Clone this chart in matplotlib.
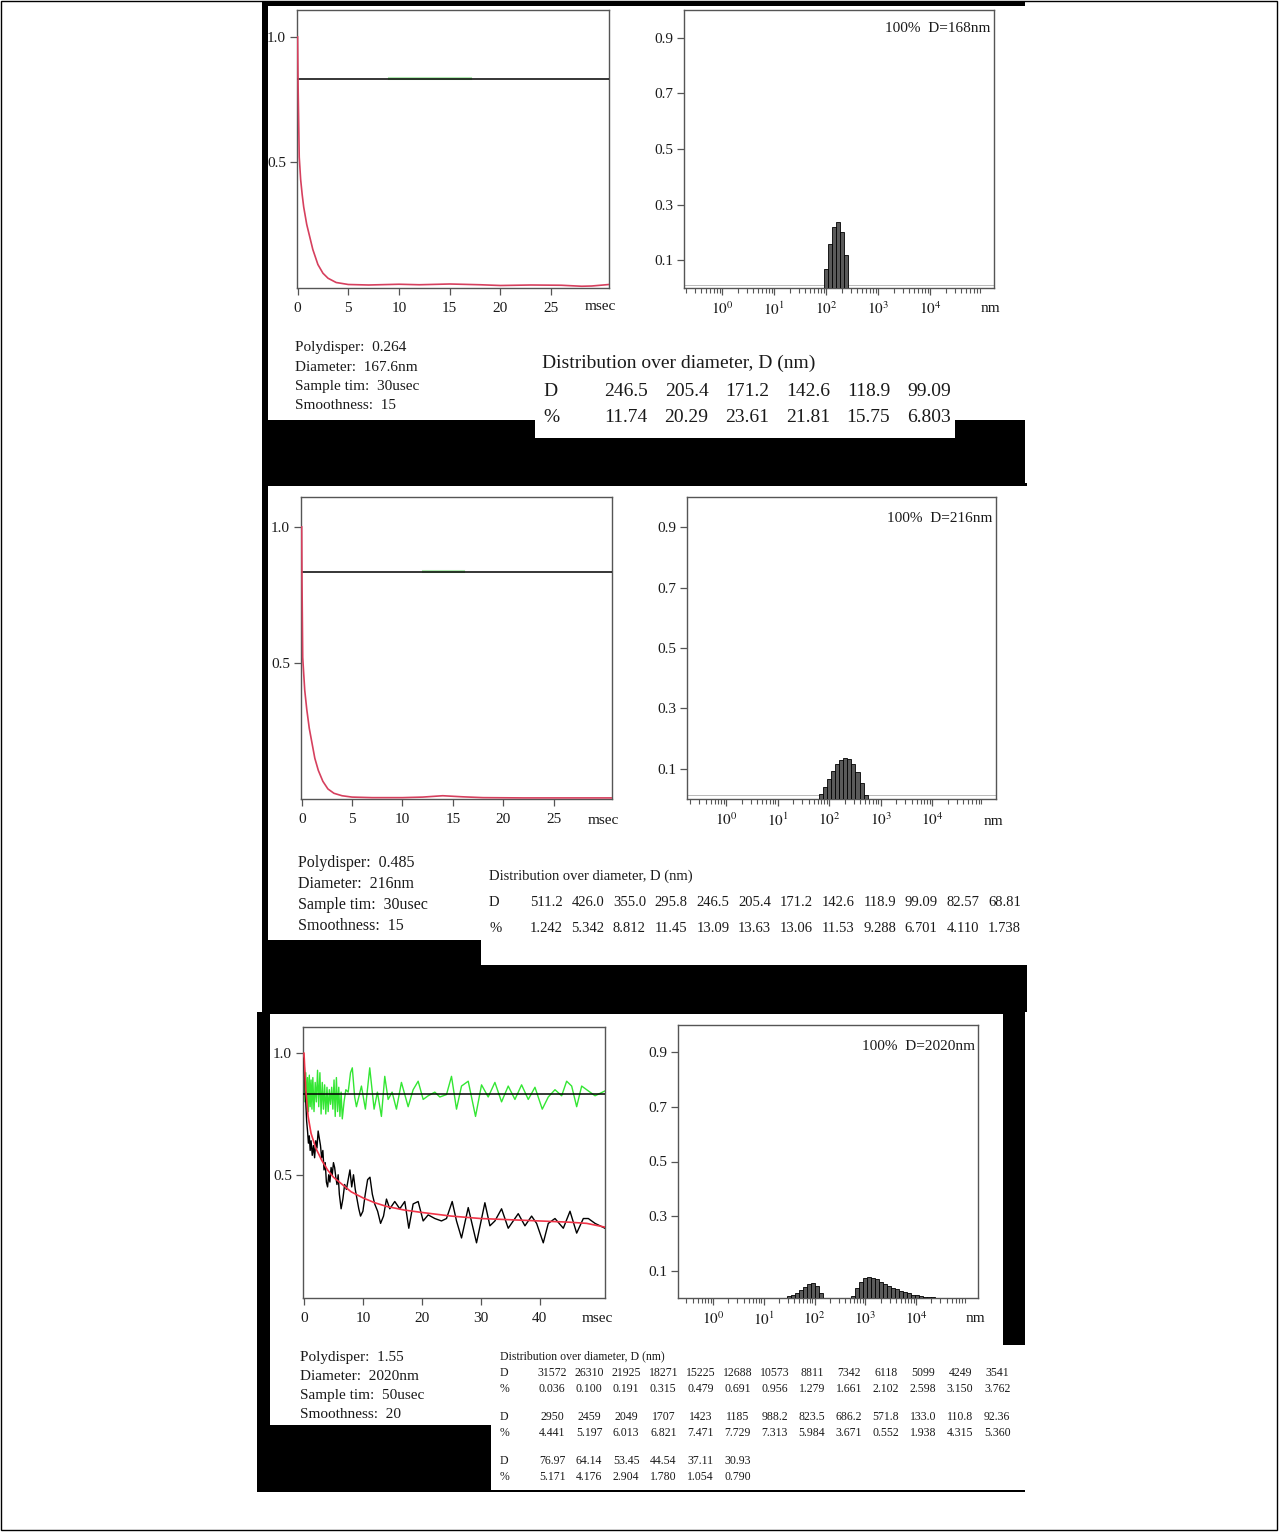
"""Three DLS reports: correlation functions and size distributions."""
import matplotlib
matplotlib.use('Agg')
import matplotlib.pyplot as plt
from matplotlib.patches import Rectangle
from matplotlib.ticker import LogLocator, NullFormatter

plt.rcParams['font.family'] = ['Liberation Serif', 'DejaVu Serif']
plt.rcParams['mathtext.fontset'] = 'stix'

W, H = 1279, 1532

# ---- sample 1 ----
s1_info = ['Polydisper:  0.264', 'Diameter:  167.6nm', 'Sample tim:  30usec', 'Smoothness:  15']
s1_peak = '100%  D=168nm'
s1_t = [0, 0.05, 0.16, 0.3, 0.45, 0.6, 0.9, 1.2, 1.5, 2.0, 2.5, 3.0, 3.8, 5, 7, 10, 12, 15,
        18, 20, 23, 26, 28, 29, 30.7]
s1_fit = [1.0, 0.8, 0.52, 0.43, 0.37, 0.32, 0.25, 0.2, 0.15, 0.09, 0.055, 0.035, 0.018, 0.01,
          0.008, 0.011, 0.009, 0.012, 0.009, 0.006, 0.008, 0.007, 0.003, 0.004, 0.01]
s1_base = 0.832
s1_green_t = [9, 17]
s1_green_v = [0.836, 0.836]
s1_D = [246.5, 205.4, 171.2, 142.6, 118.9, 99.09]
s1_pct = [11.74, 20.29, 23.61, 21.81, 15.75, 6.803]
s1_D_lbl = ['246.5', '205.4', '171.2', '142.6', '118.9', '99.09']
s1_pct_lbl = ['11.74', '20.29', '23.61', '21.81', '15.75', '6.803']

# ---- sample 2 ----
s2_info = ['Polydisper:  0.485', 'Diameter:  216nm', 'Sample tim:  30usec', 'Smoothness:  15']
s2_peak = '100%  D=216nm'
s2_t = [0, 0.03, 0.1, 0.3, 0.5, 0.75, 1.0, 1.3, 1.65, 2.1, 2.6, 3.2, 4, 5, 7, 10, 12, 14, 16,
        18, 22, 26, 30.8]
s2_fit = [1.0, 0.8, 0.52, 0.4, 0.33, 0.26, 0.21, 0.15, 0.105, 0.065, 0.037, 0.021, 0.012, 0.007,
          0.005, 0.005, 0.007, 0.012, 0.008, 0.005, 0.004, 0.004, 0.004]
s2_base = 0.835
s2_green_t = [12, 16]
s2_green_v = [0.839, 0.839]
s2_D = [511.2, 426.0, 355.0, 295.8, 246.5, 205.4, 171.2, 142.6, 118.9, 99.09, 82.57, 68.81]
s2_pct = [1.242, 5.342, 8.812, 11.45, 13.09, 13.63, 13.06, 11.53, 9.288, 6.701, 4.110, 1.738]
s2_D_lbl = ['511.2', '426.0', '355.0', '295.8', '246.5', '205.4', '171.2', '142.6', '118.9',
            '99.09', '82.57', '68.81']
s2_pct_lbl = ['1.242', '5.342', '8.812', '11.45', '13.09', '13.63', '13.06', '11.53', '9.288',
              '6.701', '4.110', '1.738']

# ---- sample 3 ----
s3_info = ['Polydisper:  1.55', 'Diameter:  2020nm', 'Sample tim:  50usec', 'Smoothness:  20']
s3_peak = '100%  D=2020nm'
s3_base = 0.832
s3_fit_t = [0, 0.3, 0.7, 1.2, 2, 3, 4, 5, 6.5, 8, 10, 12, 14, 17, 20, 25, 30, 35, 40, 45, 48, 51]
s3_fit = [1.0, 0.85, 0.74, 0.67, 0.61, 0.56, 0.52, 0.49, 0.46, 0.43, 0.405, 0.385, 0.37, 0.355,
          0.345, 0.33, 0.32, 0.315, 0.31, 0.305, 0.3, 0.285]
s3_raw_t = [0, 0.15, 0.3, 0.45, 0.6, 0.75, 0.9, 1.05, 1.2, 1.4, 1.6, 1.8, 2.0, 2.2, 2.4, 2.6,
            2.8, 3.0, 3.2, 3.4, 3.6, 3.8, 4.0, 4.2, 4.4, 4.6, 4.8, 5.0, 5.2, 5.4, 5.6, 5.8, 6.0,
            6.3, 6.6, 6.9, 7.2, 7.5, 7.8, 8.1, 8.4, 8.7, 9.0, 9.3, 9.6, 10.0, 10.4, 10.8, 11.2,
            11.6, 12.0, 12.5, 13.0, 13.5, 14.0,
            14.56, 15.41, 16.26, 17.11, 17.79, 18.53, 19.38, 20.23, 21.08, 22.21, 23.34, 24.19,
            25.16, 25.89, 26.74, 27.88, 29.29, 30.71, 31.56, 32.41, 33.54, 34.67, 35.52, 36.37,
            37.51, 38.64, 39.49, 40.62, 41.47, 42.61, 44.02, 45.16, 46.29, 47.42, 48.27, 49.41,
            51.1]
s3_raw = [0.98, 0.88, 0.80, 0.72, 0.68, 0.63, 0.66, 0.60, 0.64, 0.58, 0.62, 0.57, 0.64, 0.61,
          0.68, 0.65, 0.62, 0.57, 0.60, 0.52, 0.55, 0.47, 0.45, 0.50, 0.47, 0.53, 0.50, 0.55,
          0.53, 0.49, 0.46, 0.50, 0.42, 0.36, 0.40, 0.46, 0.44, 0.48, 0.52, 0.45, 0.50, 0.44,
          0.40, 0.36, 0.33, 0.35, 0.42, 0.48, 0.49, 0.42, 0.38, 0.35, 0.30, 0.33, 0.40,
          0.36, 0.39, 0.36, 0.39, 0.28, 0.38, 0.39, 0.31, 0.335, 0.32, 0.31, 0.32, 0.39, 0.31,
          0.24, 0.365, 0.22, 0.385, 0.29, 0.31, 0.36, 0.28, 0.31, 0.34, 0.29, 0.33, 0.30, 0.22,
          0.30, 0.32, 0.28, 0.35, 0.26, 0.32, 0.32, 0.30, 0.28]
s3_grn_t = [0, 0.15, 0.3, 0.45, 0.6, 0.75, 0.9, 1.05, 1.2, 1.35, 1.5, 1.7, 1.9, 2.1, 2.3, 2.5,
            2.7, 2.9, 3.1, 3.3, 3.5, 3.7, 3.9, 4.1, 4.3, 4.5, 4.7, 4.9, 5.1, 5.3, 5.5, 5.7, 5.9,
            6.1, 6.3, 6.5, 6.8, 7.1, 7.5, 7.9, 8.2, 8.6,
            8.9, 9.75, 10.42, 11.16, 11.9, 12.46, 13.14, 13.71, 14.28, 14.96, 15.69, 16.54,
            17.68, 18.53, 19.38, 20.23, 21.08, 22.21, 23.06, 24.19, 25.04, 25.89, 26.74, 27.88,
            29.12, 30.14, 31.27, 32.41, 33.54, 34.67, 35.81, 36.94, 38.07, 39.21, 40.45, 41.47,
            42.61, 43.74, 44.59, 45.44, 46.29, 47.14, 48.27, 49.41, 51.1]
s3_grn = [0.98, 0.80, 0.92, 0.77, 0.90, 0.76, 0.91, 0.78, 0.89, 0.77, 0.90, 0.76, 0.88, 0.80,
          0.93, 0.78, 0.92, 0.75, 0.88, 0.77, 0.87, 0.75, 0.86, 0.76, 0.85, 0.79, 0.86, 0.77,
          0.89, 0.74, 0.90, 0.76, 0.86, 0.74, 0.84, 0.73, 0.80, 0.85, 0.84, 0.92, 0.94, 0.82,
          0.78, 0.865, 0.77, 0.94, 0.77, 0.84, 0.74, 0.905, 0.81, 0.84, 0.77, 0.88, 0.78, 0.85,
          0.885, 0.81, 0.825, 0.84, 0.82, 0.83, 0.905, 0.77, 0.865, 0.885, 0.74, 0.87, 0.82,
          0.88, 0.80, 0.865, 0.81, 0.87, 0.81, 0.86, 0.77, 0.82, 0.85, 0.825, 0.885, 0.865,
          0.78, 0.865, 0.845, 0.825, 0.845]
s3_D = [31572, 26310, 21925, 18271, 15225, 12688, 10573, 8811, 7342, 6118, 5099, 4249, 3541,
        2950, 2459, 2049, 1707, 1423, 1185, 988.2, 823.5, 686.2, 571.8, 133.0, 110.8, 92.36,
        76.97, 64.14, 53.45, 44.54, 37.11, 30.93]
s3_pct = [0.036, 0.100, 0.191, 0.315, 0.479, 0.691, 0.956, 1.279, 1.661, 2.102, 2.598, 3.150,
          3.762, 4.441, 5.197, 6.013, 6.821, 7.471, 7.729, 7.313, 5.984, 3.671, 0.552, 1.938,
          4.315, 5.360, 5.171, 4.176, 2.904, 1.780, 1.054, 0.790]
s3_D_lbl = ['31572', '26310', '21925', '18271', '15225', '12688', '10573', '8811', '7342', '6118',
            '5099', '4249', '3541', '2950', '2459', '2049', '1707', '1423', '1185', '988.2',
            '823.5', '686.2', '571.8', '133.0', '110.8', '92.36', '76.97', '64.14', '53.45',
            '44.54', '37.11', '30.93']
s3_pct_lbl = ['0.036', '0.100', '0.191', '0.315', '0.479', '0.691', '0.956', '1.279', '1.661',
              '2.102', '2.598', '3.150', '3.762', '4.441', '5.197', '6.013', '6.821', '7.471',
              '7.729', '7.313', '5.984', '3.671', '0.552', '1.938', '4.315', '5.360', '5.171',
              '4.176', '2.904', '1.780', '1.054', '0.790']

TITLE = 'Distribution over diameter, D (nm)'
BIN_RATIO = 1.2
INK = '#1a1a1a'
AX = '#555555'

fig = plt.figure(figsize=(W / 100, H / 100), dpi=100)
fig.patch.set_facecolor('white')


def box(x0, y0, x1, y1, color, z=-5, **kw):
    fig.add_artist(Rectangle((x0 / W, 1 - y1 / H), (x1 - x0) / W, (y1 - y0) / H,
                             transform=fig.transFigure, facecolor=color, zorder=z, **kw))


def txt(x, y, s, size, ha='left'):
    fig.text(x / W, 1 - y / H, s, fontsize=size, ha=ha, va='center', color=INK)


def new_ax(x0, y0, x1, y1):
    ax = fig.add_axes([x0 / W, 1 - y1 / H, (x1 - x0) / W, (y1 - y0) / H])
    for sp in ax.spines.values():
        sp.set_color(AX)
        sp.set_linewidth(1.0)
    ax.tick_params(direction='out', length=5, width=0.9, color=AX, labelsize=11,
                   labelcolor=INK, pad=3)
    return ax


def corr_panel(rect, xlim, ylim, xticks, base, fit_t, fit, red, gt, gv, green_style,
               raw_t=None, raw=None):
    ax = new_ax(*rect)
    ax.plot(gt, gv, zorder=2, **green_style)
    ax.axhline(base, color='black', lw=1.1, zorder=3)
    if raw_t is not None:
        ax.plot(raw_t, raw, color='black', lw=1.0, zorder=4)
    ax.plot(fit_t, fit, color=red, lw=1.2, zorder=5)
    ax.set_xlim(*xlim)
    ax.set_ylim(*ylim)
    ax.set_xticks(xticks)
    ax.set_xticklabels([str(v) for v in xticks])
    ax.set_yticks([0.5, 1.0])
    ax.set_yticklabels(['0.5', '1.0'])
    ax.tick_params(axis='x', pad=5)
    return ax


def hist_panel(rect, xlim, D, pct, peak_x, peak_y, peak, base_line=True):
    ax = new_ax(*rect)
    ax.set_xscale('log')
    lo = [d / BIN_RATIO ** 0.5 for d in D]
    wd = [d * BIN_RATIO ** 0.5 - d / BIN_RATIO ** 0.5 for d in D]
    ax.bar(lo, [p / 100 for p in pct], width=wd, align='edge', color='#5a5a5a',
           edgecolor='black', linewidth=0.6, zorder=3)
    if base_line:
        ax.axhline(0.012, color='#b8b8b8', lw=0.7, zorder=2)
    ax.set_xlim(*xlim)
    ax.set_ylim(0, 1.0)
    ax.set_yticks([0.1, 0.3, 0.5, 0.7, 0.9])
    ax.set_yticklabels(['0.1', '0.3', '0.5', '0.7', '0.9'])
    ax.set_xticks([1, 10, 100, 1000, 10000])
    ax.set_xticklabels([r'$10^0$', r'$10^1$', r'$10^2$', r'$10^3$', r'$10^4$'])
    ax.xaxis.set_minor_locator(LogLocator(base=10, subs=range(2, 10), numticks=20))
    ax.xaxis.set_minor_formatter(NullFormatter())
    ax.tick_params(axis='x', which='minor', direction='out', length=3.5, width=0.8, color=AX)
    ax.tick_params(axis='x', which='major', pad=4)
    txt(peak_x, peak_y, peak, 11, ha='right')
    return ax


faint_green = dict(color='#8fe08f', lw=2.2, alpha=0.7)
bright_green = dict(color='#33e633', lw=1.0)

# outer frame
box(1, 1, 1277, 1530, 'none', z=20, edgecolor='black', linewidth=1.0)

# ---------------- panel 1 ----------------
box(262, 2, 1025, 483, 'black')
box(268, 6, 1025, 420, 'white', z=-4)
box(535, 340, 955, 438, 'white', z=-4)
corr_panel((297, 10, 609, 288), (-0.06, 30.7), (-0.004, 1.108), [0, 5, 10, 15, 20, 25],
           s1_base, s1_t, s1_fit, '#d6405e', s1_green_t, s1_green_v, faint_green)
txt(600, 307, 'msec', 11, ha='center')
hist_panel((684, 10, 994, 288), (10 ** -0.73, 10 ** 5.23), s1_D, s1_pct, 990, 29, s1_peak)
txt(990, 308, 'nm', 11, ha='center')
for i, s in enumerate(s1_info):
    txt(295, 348 + 19.3 * i, s, 11)
txt(542, 363, TITLE, 14)
txt(543, 391, 'D', 14)
txt(543, 418, '%', 14)
for i, (a, b) in enumerate(zip(s1_D_lbl, s1_pct_lbl)):
    txt(626 + 60.6 * i, 391, a, 14, ha='center')
    txt(626 + 60.6 * i, 418, b, 14, ha='center')

# ---------------- panel 2 ----------------
box(262, 483, 1027, 1012, 'black')
box(268, 486, 1027, 940, 'white', z=-4)
box(481, 855, 1027, 965, 'white', z=-4)
corr_panel((301, 497, 612, 799), (-0.07, 30.8), (0, 1.11), [0, 5, 10, 15, 20, 25],
           s2_base, s2_t, s2_fit, '#d6405e', s2_green_t, s2_green_v, faint_green)
txt(603, 820, 'msec', 11, ha='center')
hist_panel((687, 497, 996, 799), (10 ** -0.76, 10 ** 5.24), s2_D, s2_pct, 992, 518, s2_peak)
txt(993, 821, 'nm', 11, ha='center')
for i, s in enumerate(s2_info):
    txt(298, 863 + 21 * i, s, 11.5)
txt(489, 876, TITLE, 10.5)
txt(489, 903, 'D', 10.5)
txt(489, 929, '%', 10.5)
for i, (a, b) in enumerate(zip(s2_D_lbl, s2_pct_lbl)):
    txt(546 + 41.7 * i, 903, a, 10.5, ha='center')
    txt(546 + 41.7 * i, 929, b, 10.5, ha='center')

# ---------------- panel 3 ----------------
box(257, 1012, 1025, 1492, 'black')
box(270, 1014, 1003, 1425, 'white', z=-4)
box(491, 1345, 1025, 1490, 'white', z=-4)
corr_panel((303, 1027, 605, 1298), (-0.17, 51.1), (-0.007, 1.108), [0, 10, 20, 30, 40],
           s3_base, s3_fit_t, s3_fit, '#f03448', s3_grn_t, s3_grn, bright_green,
           s3_raw_t, s3_raw)
txt(597, 1318, 'msec', 11, ha='center')
hist_panel((678, 1025, 978, 1298), (10 ** -0.69, 10 ** 5.22), s3_D, s3_pct, 975, 1046,
           s3_peak, base_line=False)
txt(975, 1318, 'nm', 11, ha='center')
for i, s in enumerate(s3_info):
    txt(300, 1357 + 19.3 * i, s, 11)
txt(500, 1356, TITLE, 8.5)
rows_y = [(1373, 1389), (1417, 1433), (1461, 1477)]
for r, (yd, yp) in enumerate(rows_y):
    txt(500, yd, 'D', 8.5)
    txt(500, yp, '%', 8.5)
    for i in range(13):
        k = r * 13 + i
        if k >= len(s3_D_lbl):
            break
        txt(552 + 37.1 * i, yd, s3_D_lbl[k], 8.5, ha='center')
        txt(552 + 37.1 * i, yp, s3_pct_lbl[k], 8.5, ha='center')

fig.savefig('out.png', dpi=100, facecolor='white')
plt.close(fig)
print('Saved: out.png')
